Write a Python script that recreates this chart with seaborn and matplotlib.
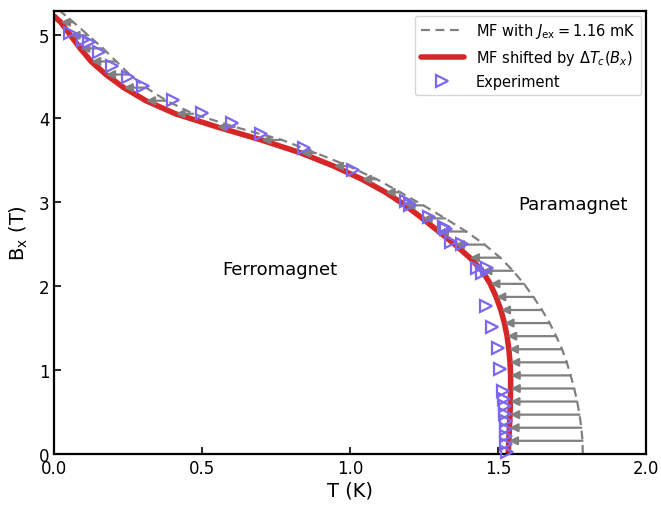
import numpy as np
import pandas as pd
import matplotlib
matplotlib.use("Agg")
import matplotlib.pyplot as plt
import seaborn as sns

# field levels (T) where both phase boundaries are sampled; arrows drawn at each
B_levels = [0.000, 0.156, 0.312, 0.468, 0.624, 0.780, 0.936, 1.092, 1.248, 1.404,
            1.560, 1.716, 1.872, 2.028, 2.184, 2.340, 2.496, 2.652, 2.808, 2.964,
            3.120, 3.276, 3.432, 3.588, 3.744, 3.900, 4.056, 4.212, 4.368, 4.524,
            4.680, 4.836, 4.992, 5.148]

# mean-field boundary T(B)
T_mf = [1.787, 1.786, 1.782, 1.776, 1.768, 1.758, 1.746, 1.733, 1.717, 1.697,
        1.675, 1.649, 1.620, 1.588, 1.551, 1.508, 1.455, 1.393, 1.322, 1.248,
        1.170, 1.090, 0.995, 0.885, 0.770, 0.610, 0.470, 0.380, 0.310, 0.255,
        0.210, 0.165, 0.115, 0.065]

# MF boundary shifted by dTc(Bx)
T_shift = [1.535, 1.537, 1.539, 1.541, 1.542, 1.543, 1.543, 1.541, 1.537, 1.531,
           1.522, 1.510, 1.494, 1.474, 1.447, 1.405, 1.355, 1.300, 1.245, 1.187,
           1.120, 1.040, 0.945, 0.835, 0.700, 0.550, 0.410, 0.310, 0.235, 0.175,
           0.125, 0.088, 0.055, 0.022]

# field where each curve meets T = 0
B_top_mf = 5.34
B_top_shift = 5.22

# experimental points
T_exp = [0.052, 0.099, 0.116, 0.150, 0.195, 0.248, 0.300, 0.400, 0.499, 0.600,
         0.698, 0.845, 1.011, 1.190, 1.203, 1.266, 1.318, 1.325, 1.343, 1.378,
         1.430, 1.462, 1.445, 1.459, 1.479, 1.501, 1.507, 1.518, 1.521, 1.523,
         1.524, 1.526, 1.527, 1.528, 1.529, 1.530]
B_exp = [5.02, 4.93, 4.91, 4.79, 4.63, 4.50, 4.39, 4.22, 4.06, 3.95,
         3.81, 3.65, 3.39, 3.02, 2.97, 2.82, 2.71, 2.685, 2.53, 2.50,
         2.22, 2.22, 2.16, 1.76, 1.51, 1.26, 1.01, 0.755, 0.66, 0.57,
         0.48, 0.39, 0.30, 0.21, 0.12, 0.02]

sns.set_theme(style="ticks")
plt.rcParams['font.family'] = ['DejaVu Sans']
plt.rcParams['mathtext.fontset'] = 'dejavusans'
plt.rcParams['xtick.direction'] = 'in'
plt.rcParams['ytick.direction'] = 'in'
plt.rcParams['axes.linewidth'] = 1.6
plt.rcParams['axes.edgecolor'] = 'black'
plt.rcParams['text.color'] = 'black'
plt.rcParams['axes.labelcolor'] = 'black'

fig = plt.figure(figsize=(6.61, 5.06), dpi=100)
ax = fig.add_axes([0.082, 0.101, 0.895, 0.875])

df_mf = pd.DataFrame({'T': T_mf + [0.0], 'B': B_levels + [B_top_mf]})
df_shift = pd.DataFrame({'T': T_shift + [0.0], 'B': B_levels + [B_top_shift]})
df_exp = pd.DataFrame({'T': T_exp, 'B': B_exp})

# arrows from MF boundary to shifted boundary
for b, t0, t1 in zip(B_levels[1:], T_mf[1:], T_shift[1:]):
    ax.annotate("", xy=(t1, b), xytext=(t0, b),
                arrowprops=dict(arrowstyle='-|>', color='gray', lw=1.6,
                                mutation_scale=12, shrinkA=0, shrinkB=0))

sns.lineplot(data=df_mf, x='T', y='B', sort=False, estimator=None, ax=ax,
             color='gray', lw=1.6, linestyle=(0, (4, 2.5)),
             label=r'MF with $J_{\rm ex} = 1.16$ mK')
sns.lineplot(data=df_shift, x='T', y='B', sort=False, estimator=None, ax=ax,
             color='#d62728', lw=4, label=r'MF shifted by $\Delta T_c(B_x)$')
ax.plot(df_exp['T'], df_exp['B'], linestyle='none', marker='>', markersize=8.5,
        markerfacecolor='none', markeredgecolor='mediumslateblue',
        markeredgewidth=1.6, label='Experiment', clip_on=False, zorder=5)

ax.text(0.763, 2.2, 'Ferromagnet', fontsize=13, ha='center', va='center')
ax.text(1.753, 2.98, 'Paramagnet', fontsize=13, ha='center', va='center')

ax.set_xlim(0, 2.0)
ax.set_ylim(0, 5.28)
ax.set_xticks([0.0, 0.5, 1.0, 1.5, 2.0])
ax.set_yticks([0, 1, 2, 3, 4, 5])
ax.tick_params(labelsize=12, length=5, width=1.2, colors='black')
ax.set_xlabel('T (K)', fontsize=14, labelpad=3)
ax.set_ylabel(r'B$_\mathrm{x}$ (T)', fontsize=14, labelpad=6)

ax.legend(loc='upper right', fontsize=10.5, frameon=True, handlelength=3.0,
          borderaxespad=0.3)

fig.savefig("out.png", dpi=100)
